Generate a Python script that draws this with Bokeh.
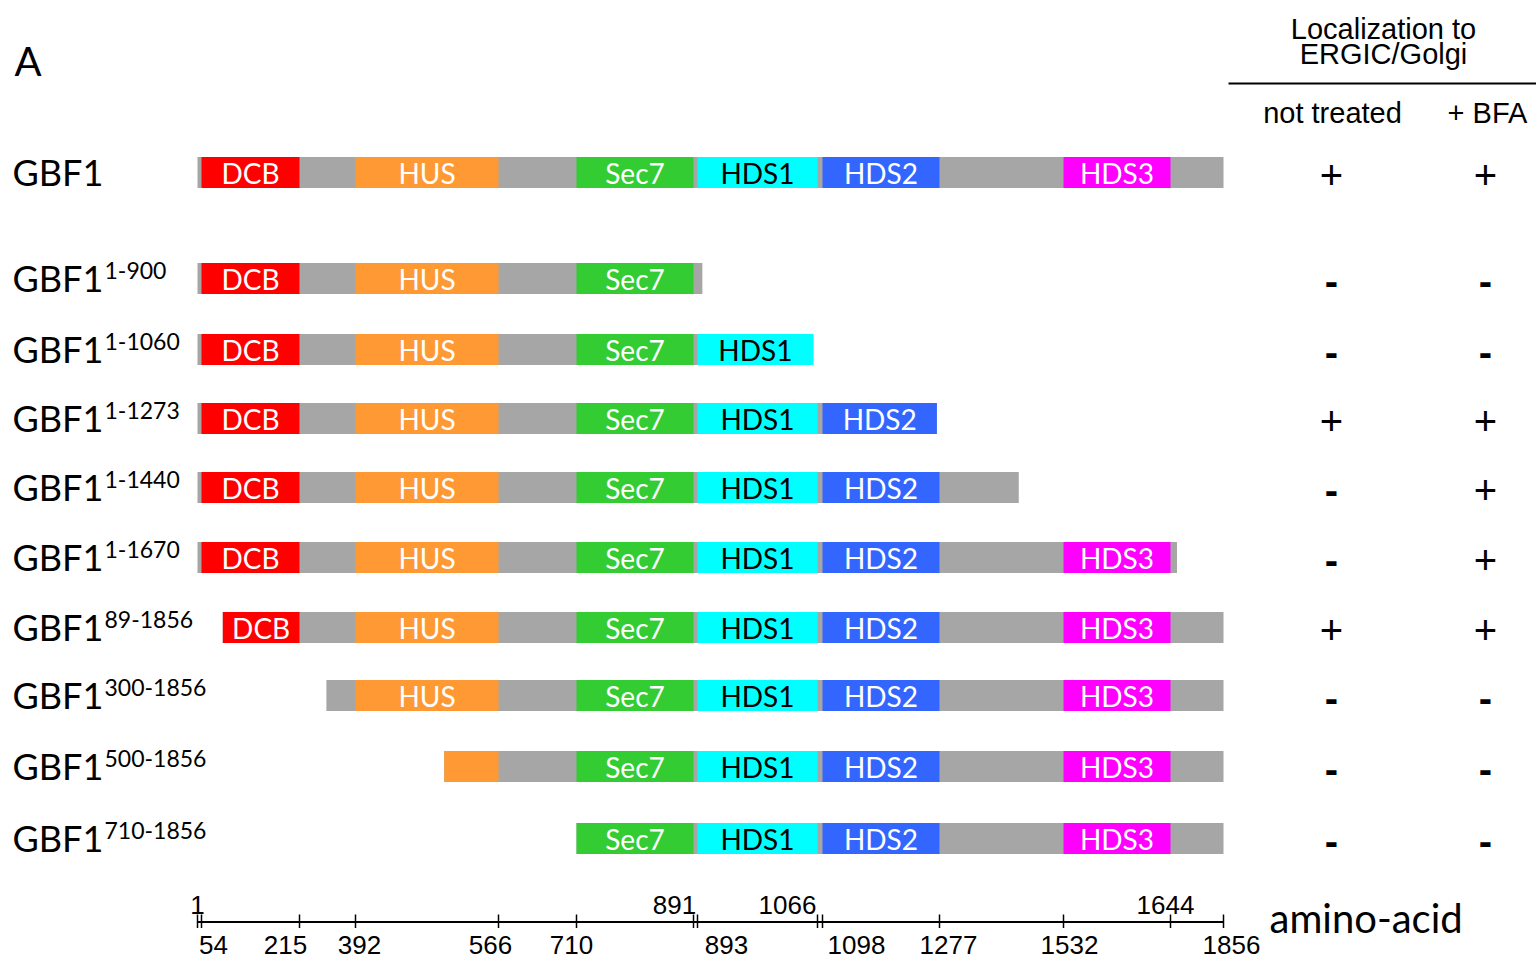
import numpy as np
from bokeh.plotting import figure
from bokeh.models import Range1d, ColumnDataSource
from bokeh.core.properties import value
from bokeh.embed import file_html
from bokeh.resources import INLINE

# ---------------- data ----------------
construct_names = ["GBF1"] * 10
construct_ranges = ["", "1-900", "1-1060", "1-1273", "1-1440", "1-1670",
                    "89-1856", "300-1856", "500-1856", "710-1856"]
construct_start = [1, 1, 1, 1, 1, 1, 89, 300, 500, 710]
construct_end = [1856, 900, 1060, 1273, 1440, 1670, 1856, 1856, 1856, 1856]

domain_names = ["DCB", "HUS", "Sec7", "HDS1", "HDS2", "HDS3"]
domain_start = [54, 392, 710, 893, 1098, 1532]
domain_end = [215, 566, 891, 1066, 1277, 1644]

loc_not_treated = ["+", "-", "-", "+", "-", "-", "+", "-", "-", "-"]
loc_bfa = ["+", "-", "-", "+", "+", "+", "+", "-", "-", "-"]

ruler_ticks_aa = [1, 54, 215, 392, 566, 710, 891, 893, 1066, 1098, 1277, 1532, 1644, 1856]
ruler_ticks_above = [1, 891, 1066, 1644]

# ---------------- styles / layout ----------------
domain_colors = {"DCB": "#FF0000", "HUS": "#FF9933", "Sec7": "#33CC33",
                 "HDS1": "#00FFFF", "HDS2": "#3366FF", "HDS3": "#FF00FF"}
domain_text_colors = {"DCB": "white", "HUS": "white", "Sec7": "white",
                      "HDS1": "black", "HDS2": "white", "HDS3": "white"}
backbone_color = "#A6A6A6"

# schematic (non-linear) ruler: drawn position of each ruler tick
ruler_pos = [197.0, 201.0, 299.0, 355.0, 498.0, 576.0, 693.0, 697.0,
             817.0, 822.0, 939.0, 1063.0, 1170.0, 1223.0]
# horizontal nudges of crowded ruler labels (pixels)
ruler_label_dx = {54: 12, 215: -14, 392: 4, 566: -8, 710: -5, 891: -19, 893: 29,
                  1066: -30, 1098: 34, 1277: 9, 1532: 6, 1644: -5, 1856: 8}
row_y = [172, 278, 349, 418, 487, 557, 627, 695, 766, 838]
bar_h = 31
ruler_y = 921.5
MIN_FRACTION_DRAWN = 0.1    # domain fragments smaller than this are not drawn
MIN_FRACTION_LABEL = 0.5    # domain fragments smaller than this are not labelled

CAL = value("Lato")
ARI = value("Liberation Sans")


def sx(aa):
    return np.interp(aa, ruler_ticks_aa, ruler_pos)


W, H = 1536, 960
p = figure(width=W, height=H, output_backend="svg", toolbar_location=None,
           x_range=Range1d(0, W), y_range=Range1d(H, 0),
           min_border=0, x_axis_location=None, y_axis_location=None)
p.outline_line_color = None
p.xgrid.visible = False
p.ygrid.visible = False
p.background_fill_color = "white"
p.border_fill_color = "white"

# ---------------- bars ----------------
bb = dict(left=[], right=[], y=[])
dm = dict(left=[], right=[], y=[], color=[])
dl = dict(x=[], y=[], text=[], color=[])
for s, e, y in zip(construct_start, construct_end, row_y):
    bb["left"].append(sx(s)); bb["right"].append(sx(e)); bb["y"].append(y)
    for name, ds, de in zip(domain_names, domain_start, domain_end):
        a, b = max(ds, s), min(de, e)
        frac = (b - a) / (de - ds)
        if frac < MIN_FRACTION_DRAWN:
            continue
        dm["left"].append(sx(a)); dm["right"].append(sx(b)); dm["y"].append(y)
        dm["color"].append(domain_colors[name])
        if frac >= MIN_FRACTION_LABEL:
            dl["x"].append((sx(a) + sx(b)) / 2); dl["y"].append(y)
            dl["text"].append(name); dl["color"].append(domain_text_colors[name])

p.hbar(y="y", left="left", right="right", height=bar_h, source=ColumnDataSource(bb),
       fill_color=backbone_color, line_color=None)
p.hbar(y="y", left="left", right="right", height=bar_h, source=ColumnDataSource(dm),
       fill_color="color", line_color=None)
p.text(x="x", y="y", text="text", source=ColumnDataSource(dl), text_color="color",
       text_font=CAL, text_font_size="28px", text_align="center",
       text_baseline="middle")

# ---------------- row labels ----------------
p.text(x=[12] * len(row_y), y=[y - 1 for y in row_y], text=construct_names,
       text_font=CAL, text_font_size="36px", text_baseline="middle",
       text_color="black")
p.text(x=[104] * len(row_y), y=[y - 8 for y in row_y], text=construct_ranges,
       text_font=CAL, text_font_size="23px", text_baseline="middle",
       text_color="black")

# ---------------- localization columns ----------------
col_x = [1331, 1485]
for cx, vals in zip(col_x, [loc_not_treated, loc_bfa]):
    plus_y = [y + 2 for y, v in zip(row_y, vals) if v == "+"]
    minus_y = [y + 2 for y, v in zip(row_y, vals) if v == "-"]
    p.text(x=[cx] * len(plus_y), y=plus_y, text=["+"] * len(plus_y), text_font=ARI,
           text_font_size="40px", text_align="center", text_baseline="middle")
    p.text(x=[cx] * len(minus_y), y=minus_y, text=["-"] * len(minus_y), text_font=ARI,
           text_font_size="40px", text_font_style="bold", text_align="center",
           text_baseline="middle")

p.text(x=[1383, 1383], y=[28, 53], text=["Localization to", "ERGIC/Golgi"],
       text_font=ARI, text_font_size="29px", text_align="center",
       text_baseline="middle")
p.segment(x0=[1228], y0=[83], x1=[W], y1=[83], line_color="black", line_width=2)
p.text(x=[1332, 1487], y=[112, 112], text=["not treated", "+ BFA"],
       text_font=ARI, text_font_size="29px", text_align="center",
       text_baseline="middle")
p.text(x=[14], y=[60], text=["A"], text_font=CAL, text_font_size="40px",
       text_baseline="middle")

# ---------------- ruler (amino-acid scale) ----------------
tick_x = [sx(a) for a in ruler_ticks_aa]
p.segment(x0=[tick_x[0]], x1=[tick_x[-1]], y0=[ruler_y], y1=[ruler_y],
          line_color="black", line_width=2)
p.segment(x0=tick_x, x1=tick_x, y0=[ruler_y - 7.5] * len(tick_x),
          y1=[ruler_y + 6] * len(tick_x), line_color="black", line_width=1.5)

lab_x, lab_y, lab_t = [], [], []
for a, x in zip(ruler_ticks_aa, tick_x):
    lab_x.append(x + ruler_label_dx.get(a, 0))
    lab_y.append(ruler_y - 17.5 if a in ruler_ticks_above else ruler_y + 22.5)
    lab_t.append(str(a))
p.text(x=lab_x, y=lab_y, text=lab_t, text_font=ARI, text_font_size="26px",
       text_align="center", text_baseline="middle")

p.text(x=[1269], y=[917], text=["amino-acid"], text_font=CAL,
       text_font_size="40px", text_baseline="middle")

open("out.html", "w").write(file_html(p, INLINE))
